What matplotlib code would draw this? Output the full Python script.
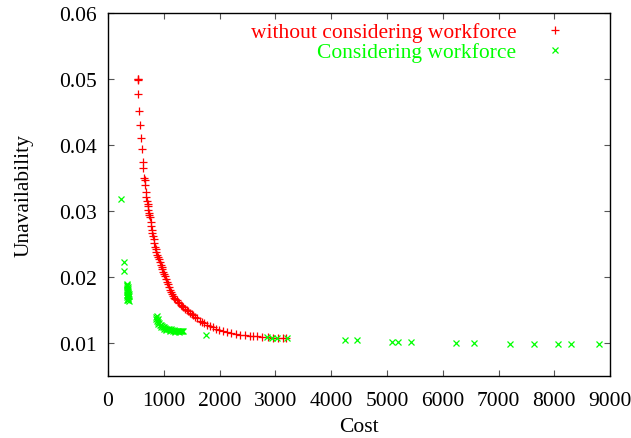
import matplotlib
matplotlib.use("Agg")
import matplotlib.pyplot as plt

plt.rcParams["font.family"] = ["Liberation Serif", "DejaVu Serif"]

# Without considering workforce (red +)
cost_no_wf = [532, 535, 540, 543, 556, 579, 591, 609, 622, 633, 650, 658, 663, 681,
              690, 699, 710, 717, 725, 735, 745, 753, 765, 775, 785, 794, 805, 818,
              830, 845, 858, 870, 885, 901, 915, 930, 945, 962, 978, 993, 1008, 1022,
              1040, 1060, 1080, 1095, 1111, 1130, 1150, 1170, 1190, 1210, 1231, 1255,
              1280, 1305, 1330, 1351, 1380, 1410, 1440, 1470, 1500, 1530, 1565, 1600,
              1649, 1690, 1730, 1780, 1828, 1880, 1930, 1990, 2067, 2140, 2210, 2290,
              2366, 2450, 2540, 2600, 2665, 2760, 2860, 2960, 3050, 3142, 3200]
unav_no_wf = [0.0500, 0.0499, 0.0500, 0.0478, 0.0451, 0.0430, 0.0411, 0.0394, 0.0374,
              0.0365, 0.0350, 0.0347, 0.0340, 0.0329, 0.0321, 0.0316, 0.0311, 0.0307,
              0.0302, 0.0297, 0.0294, 0.0291, 0.0284, 0.0278, 0.0272, 0.0267, 0.0262,
              0.0257, 0.0251, 0.0246, 0.0242, 0.0238, 0.0234, 0.0231, 0.0227, 0.0223,
              0.0219, 0.0216, 0.0212, 0.0208, 0.0204, 0.0201, 0.0197, 0.0193, 0.0189,
              0.0185, 0.0180, 0.0177, 0.0174, 0.0171, 0.0169, 0.0167, 0.0165, 0.0162,
              0.0160, 0.0158, 0.0156, 0.0155, 0.0152, 0.0150, 0.0148, 0.0146, 0.0144,
              0.0142, 0.0140, 0.0138, 0.0134, 0.0132, 0.0130, 0.0128, 0.0126, 0.0124,
              0.0122, 0.0120, 0.0118, 0.0117, 0.0116, 0.0114, 0.0113, 0.0112, 0.0111,
              0.0110, 0.0110, 0.0109, 0.0109, 0.0108, 0.0108, 0.0107, 0.0108]

# Considering workforce (green x)
cost_wf = [228, 292, 292,
           340, 350, 345, 355, 338, 360, 348, 365, 342, 356, 370, 350, 362, 345,
           368, 352, 360, 372, 348, 375,
           860, 880, 870, 895, 885, 905, 920, 900, 935, 950, 970, 960, 990, 1010,
           1030, 1000, 1050, 1070, 1090, 1110, 1130, 1150, 1170, 1190, 1210, 1230,
           1250, 1270, 1290, 1310, 1330, 1350, 1040, 1120, 1200, 1280,
           1750, 2844, 2933, 3023, 3213, 4247, 4456, 5083, 5203, 5430, 6231, 6559,
           7204, 7629, 8070, 8297, 8799]
unav_wf = [0.0318, 0.0223, 0.0209,
           0.0190, 0.0188, 0.0186, 0.0185, 0.0183, 0.0182, 0.0180, 0.0179, 0.0177,
           0.0176, 0.0175, 0.0173, 0.0171, 0.0170, 0.0169, 0.0167, 0.0165, 0.0164,
           0.0166, 0.0172,
           0.0140, 0.0141, 0.0137, 0.0136, 0.0133, 0.0132, 0.0131, 0.0129, 0.0128,
           0.0127, 0.0126, 0.0124, 0.0125, 0.0124, 0.0123, 0.0122, 0.0122, 0.0121,
           0.0122, 0.0120, 0.0121, 0.0120, 0.0119, 0.0120, 0.0119, 0.0118, 0.0119,
           0.0118, 0.0119, 0.0118, 0.0118, 0.0119, 0.0120, 0.0118, 0.0117, 0.0117,
           0.0113, 0.0109, 0.0108, 0.0108, 0.0107, 0.0105, 0.0104, 0.0102, 0.0102,
           0.0101, 0.0100, 0.0100, 0.0099, 0.0098, 0.0099, 0.0099, 0.0098]

x_ticks = [0, 1000, 2000, 3000, 4000, 5000, 6000, 7000, 8000, 9000]
y_ticks = [0.01, 0.02, 0.03, 0.04, 0.05, 0.06]

fig = plt.figure(figsize=(6.31, 4.39), dpi=100)
ax = fig.add_axes([0.171, 0.141, 0.796, 0.827])

ax.plot(cost_no_wf, unav_no_wf, linestyle="none", marker="+", color="#ff0000",
        markersize=6, markeredgewidth=0.9, label="without considering workforce")
ax.plot(cost_wf, unav_wf, linestyle="none", marker="x", color="#00ff00",
        markersize=5, markeredgewidth=0.9, label="Considering workforce")

ax.set_xlim(0, 9000)
ax.set_ylim(0.005, 0.06)
ax.set_xticks(x_ticks)
ax.set_yticks(y_ticks)
ax.set_yticklabels(["%g" % v for v in y_ticks])
ax.tick_params(direction="in", top=True, right=True, length=4, width=0.8,
               labelsize=15.5, color="#555555")
ax.tick_params(axis="x", pad=11)
ax.tick_params(axis="y", pad=8)
for s in ax.spines.values():
    s.set_linewidth(1.0)

ax.set_xlabel("Cost", fontsize=15.5, labelpad=5)
ax.set_ylabel("Unavailability", fontsize=15.5, labelpad=18)

leg = ax.legend(loc="upper right", bbox_to_anchor=(0.938, 1.01), frameon=False,
                markerfirst=False, fontsize=15.5, handlelength=1.0,
                handletextpad=1.3, labelspacing=0.0, borderaxespad=0.2)
for txt, col in zip(leg.get_texts(), ["#ff0000", "#00ff00"]):
    txt.set_color(col)

fig.savefig("out.png", dpi=100)
